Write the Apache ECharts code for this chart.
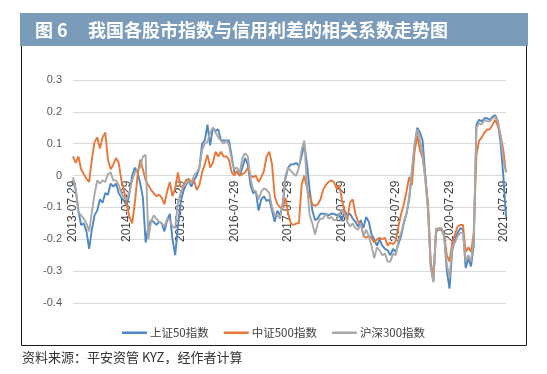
<!DOCTYPE html>
<html><head><meta charset="utf-8">
<script src="https://cdn.jsdelivr.net/npm/echarts@6/dist/echarts.min.js"></script>
<style>html,body{margin:0;padding:0;background:#fff;}#c{width:547px;height:374px;}</style>
</head><body><div id="c"></div>
<script>
const tickLabels = ['2013-07-29','2014-07-29','2015-07-29','2016-07-29','2017-07-29','2018-07-29','2019-07-29','2020-07-29','2021-07-29'];
const seriesNames = ['上证50指数','中证500指数','沪深300指数'];
const sz50 = [
-0.015,-0.045,-0.11,-0.155,-0.15,-0.175,-0.23,-0.17,-0.125,-0.11,
-0.075,-0.085,-0.055,-0.06,-0.025,-0.035,-0.025,-0.055,-0.07,-0.08,
-0.095,-0.055,0.0,0.025,0.01,-0.025,-0.07,-0.21,-0.16,-0.14,
-0.145,-0.155,-0.145,-0.15,-0.175,-0.14,-0.12,-0.2,-0.25,-0.16,
-0.085,-0.05,-0.03,-0.015,-0.035,-0.015,0.0,0.025,0.1,0.11,
0.16,0.095,0.15,0.14,0.145,0.11,0.11,0.11,0.11,0.06,
0.01,0.01,0.0,0.025,0.055,0.035,-0.03,-0.055,-0.05,-0.11,
-0.075,-0.065,-0.08,-0.075,-0.11,-0.145,-0.11,-0.125,-0.09,-0.01,
0.025,0.035,0.035,0.04,0.03,0.06,0.1,0.035,-0.045,-0.11,
-0.14,-0.135,-0.12,-0.12,-0.12,-0.125,-0.12,-0.12,-0.125,-0.12,
-0.14,-0.11,-0.125,-0.12,-0.135,-0.145,-0.16,-0.14,-0.165,-0.13,
-0.145,-0.185,-0.2,-0.22,-0.2,-0.22,-0.23,-0.235,-0.25,-0.23,
-0.24,-0.215,-0.19,-0.15,-0.12,-0.075,0.01,0.09,0.15,0.135,
0.11,0.0,-0.1,-0.28,-0.33,-0.17,-0.17,-0.17,-0.19,-0.3,
-0.355,-0.235,-0.2,-0.18,-0.165,-0.17,-0.29,-0.26,-0.285,-0.22,
0.16,0.175,0.17,0.18,0.18,0.175,0.185,0.19,0.17,0.10,
0.0,-0.13
];
const zz500 = [
0.06,0.04,0.06,0.02,0.005,-0.01,-0.02,0.05,0.105,0.12,
0.085,0.12,0.135,0.05,0.02,0.035,0.055,0.04,-0.015,-0.05,
-0.09,-0.13,-0.15,-0.085,0.0,0.05,0.02,-0.015,-0.03,-0.045,
-0.055,-0.065,-0.06,-0.07,-0.09,-0.05,-0.02,-0.065,-0.04,0.01,
-0.035,-0.035,-0.015,-0.01,-0.02,-0.015,-0.045,-0.03,0.01,0.035,
0.065,0.025,0.04,0.075,0.06,0.075,0.06,0.06,0.05,0.01,
0.0,0.015,0.0,0.005,0.01,0.025,0.0,-0.005,0.0,-0.02,
-0.005,0.015,0.06,0.075,0.035,-0.065,-0.09,-0.1,-0.1,-0.07,
-0.12,-0.15,-0.155,-0.15,-0.15,-0.03,0.0,-0.04,-0.065,-0.09,
-0.095,-0.09,-0.075,-0.045,-0.03,-0.02,-0.015,-0.02,-0.04,-0.03,
-0.075,-0.115,-0.14,-0.085,-0.075,-0.12,-0.145,-0.15,-0.19,-0.195,
-0.19,-0.195,-0.21,-0.2,-0.195,-0.2,-0.195,-0.22,-0.21,-0.215,
-0.205,-0.16,-0.12,-0.09,-0.05,-0.005,-0.03,0.075,0.125,0.08,
0.055,-0.005,-0.09,-0.27,-0.32,-0.18,-0.165,-0.165,-0.185,-0.25,
-0.27,-0.21,-0.185,-0.16,-0.155,-0.155,-0.24,-0.225,-0.24,-0.18,
0.065,0.11,0.12,0.135,0.145,0.145,0.16,0.175,0.155,0.125,
0.08,0.01
];
const hs300 = [
-0.005,-0.04,-0.115,-0.125,-0.135,-0.15,-0.175,-0.115,-0.06,-0.015,
-0.025,-0.015,-0.02,0.005,0.01,-0.015,-0.015,-0.03,-0.055,-0.07,
-0.075,-0.05,-0.015,0.01,0.02,0.025,0.06,0.065,-0.2,-0.145,
-0.125,-0.135,-0.145,-0.15,-0.16,-0.135,-0.14,-0.16,-0.165,-0.085,
-0.055,-0.035,-0.025,-0.015,-0.025,0.0,0.01,0.025,0.08,0.1,
0.105,0.135,0.15,0.135,0.12,0.11,0.1,0.11,0.095,0.05,
0.02,0.025,0.01,0.055,0.07,0.06,-0.01,-0.045,-0.05,-0.075,
-0.05,-0.04,-0.045,-0.055,-0.1,-0.125,-0.125,-0.135,-0.085,0.0,
0.025,0.015,0.005,0.0,0.025,0.08,0.11,-0.03,-0.125,-0.15,
-0.185,-0.15,-0.135,-0.135,-0.12,-0.135,-0.13,-0.14,-0.14,-0.12,
-0.11,-0.12,-0.145,-0.16,-0.15,-0.165,-0.17,-0.15,-0.19,-0.17,
-0.19,-0.22,-0.26,-0.225,-0.235,-0.25,-0.245,-0.27,-0.27,-0.245,
-0.25,-0.205,-0.18,-0.145,-0.12,-0.07,0.015,0.1,0.145,0.11,
0.065,-0.015,-0.11,-0.29,-0.335,-0.165,-0.17,-0.165,-0.19,-0.28,
-0.32,-0.225,-0.21,-0.19,-0.18,-0.18,-0.27,-0.25,-0.27,-0.2,
0.15,0.165,0.16,0.175,0.17,0.17,0.18,0.185,0.17,0.125,
0.05,0.01
];
const categories = sz50.map((_, i) => String(i));
const colors = ['#4f86c6', '#e8773a', '#a8a8a8'];

const chart = echarts.init(document.getElementById('c'), null, {renderer: 'canvas'});
const mk = (name, data, color) => ({
  name, type: 'line', data, showSymbol: false, symbol: 'none',
  lineStyle: {color, width: 1.9}, itemStyle: {color}, animation: false
});
chart.setOption({
  animation: false,
  backgroundColor: '#fff',
  graphic: [
    {type: 'rect', shape: {x: 21.5, y: 45.5, width: 505, height: 300}, style: {fill: 'none', stroke: '#1a1a1a', lineWidth: 1}, z: 0},
    {type: 'rect', shape: {x: 20, y: 13, width: 508, height: 33}, style: {fill: '#7a9cba'}, z: 1},
    {type: 'text', x: 35, y: 30, style: {text: '图 6', fill: '#fff', font: 'bold 18px "Noto Sans CJK SC"', textVerticalAlign: 'middle'}, z: 2},
    {type: 'text', x: 88, y: 30, style: {text: '我国各股市指数与信用利差的相关系数走势图', fill: '#fff', font: 'bold 18px "Noto Sans CJK SC"', textVerticalAlign: 'middle'}, z: 2},
    {type: 'text', x: 22, y: 357, style: {text: '资料来源：平安资管 KYZ，经作者计算', fill: '#333', font: '13px "Noto Sans CJK SC"', textVerticalAlign: 'middle'}, z: 2}
  ],
  grid: {left: 73, right: 41, top: 80, bottom: 71, containLabel: false},
  legend: {
    data: seriesNames, left: 'center', top: 322, icon: 'rect', itemWidth: 25, itemHeight: 2.5,
    itemGap: 15, textStyle: {fontSize: 11.5, color: '#404040', fontFamily: '"Noto Sans CJK SC"', padding: [0, 0, 0, -2]}
  },
  xAxis: {
    type: 'category', data: categories, boundaryGap: false, position: 'bottom', offset: -127.4,
    axisLine: {show: false, onZero: false},
    axisTick: {show: false},
    axisLabel: {
      interval: 19, rotate: 90, margin: 5, fontSize: 12, color: '#404040',
      fontFamily: 'Liberation Sans, Arial, sans-serif',
      formatter: (v, idx) => (idx % 20 === 0 ? tickLabels[idx / 20] : '')
    },
    splitLine: {show: false}
  },
  yAxis: {
    type: 'value', min: -0.4, max: 0.3, interval: 0.1,
    axisLine: {show: false}, axisTick: {show: false},
    axisLabel: {margin: 11, fontSize: 11, color: '#595959', fontFamily: 'Liberation Sans, Arial, sans-serif',
      formatter: v => { const r = Math.round(v * 10) / 10; return r === 0 ? '0' : r.toFixed(1); }},
    splitLine: {lineStyle: {color: '#d9d9d9', width: 1}}
  },
  series: [mk(seriesNames[0], sz50, colors[0]), mk(seriesNames[1], zz500, colors[1]), mk(seriesNames[2], hs300, colors[2])]
});
</script></body></html>
